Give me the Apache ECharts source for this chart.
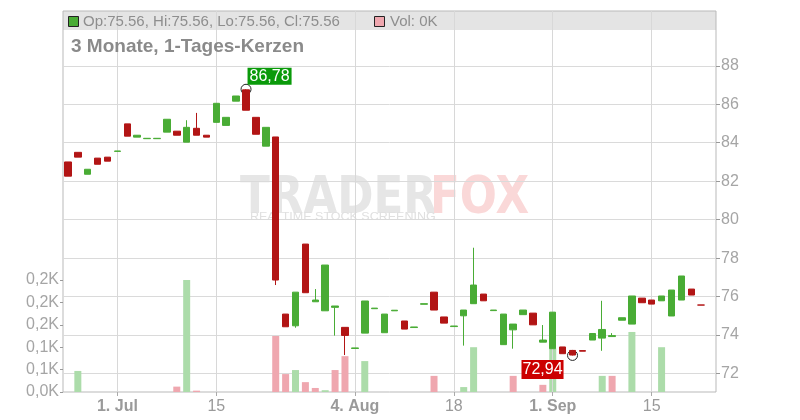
<!DOCTYPE html>
<html>
<head>
<meta charset="utf-8">
<script src="https://cdn.jsdelivr.net/npm/echarts@6/dist/echarts.min.js"></script>
<style>
html,body{margin:0;padding:0;background:#fff;}
#chart{width:800px;height:420px;}
</style>
</head>
<body>
<div id="chart"></div>
<script>
const categories = [
  '24.06.','25.06.','26.06.','27.06.','30.06.',
  '01.07.','02.07.','03.07.','04.07.','07.07.','08.07.','09.07.','10.07.','11.07.',
  '14.07.','15.07.','16.07.','17.07.','18.07.','21.07.','22.07.','23.07.','24.07.','25.07.',
  '28.07.','29.07.','30.07.','31.07.','01.08.','04.08.','05.08.','06.08.','07.08.','08.08.',
  '11.08.','12.08.','13.08.','14.08.','15.08.','18.08.','19.08.','20.08.','21.08.','22.08.',
  '25.08.','26.08.','27.08.','28.08.','29.08.','01.09.','02.09.','03.09.','04.09.','05.09.',
  '08.09.','09.09.','10.09.','11.09.','12.09.','15.09.','16.09.','17.09.','18.09.','19.09.',
  '22.09.','23.09.'
];
const opens = [
  83.00,83.50,82.36,83.20,83.25,83.55,84.98,84.29,84.21,84.21,
  84.55,84.60,84.03,84.75,84.39,85.06,84.90,86.16,86.75,85.32,
  83.82,84.30,75.09,74.48,78.73,75.73,75.26,75.44,74.40,73.30,
  74.10,75.37,74.12,75.26,74.73,74.39,75.60,76.23,74.94,74.44,
  75.00,75.63,76.13,75.27,73.50,74.27,75.06,75.14,73.63,73.29,
  73.38,73.20,73.19,73.74,73.84,73.92,74.77,74.57,75.92,75.82,
  75.78,74.99,75.82,76.39,75.56
];
const closes = [
  82.26,83.25,82.62,82.88,83.04,83.57,84.34,84.39,84.23,84.23,
  85.22,84.39,84.80,84.39,84.29,86.05,85.32,86.43,85.69,84.44,
  84.80,76.86,74.43,76.23,76.20,75.82,77.64,75.51,73.98,73.33,
  75.77,75.40,75.09,75.29,74.31,74.42,75.63,75.30,74.62,74.47,
  75.30,76.60,75.78,75.30,75.09,74.57,75.30,74.53,73.74,75.19,
  73.03,72.96,73.16,74.08,74.29,73.97,74.90,76.03,75.68,75.61,
  76.03,76.34,77.07,76.08,75.56
];
const highs = [
  83.00,83.50,82.62,83.20,83.25,83.57,84.98,84.39,84.23,84.23,
  85.22,84.60,85.17,85.55,84.39,86.05,85.32,86.43,86.78,85.32,
  84.80,84.30,75.09,76.23,78.73,76.39,77.64,75.51,74.40,73.33,
  75.77,75.40,75.09,75.29,74.73,74.42,75.63,76.23,74.94,74.47,
  75.30,78.54,76.13,75.30,75.09,74.57,75.30,75.14,74.52,75.19,
  73.38,73.20,73.19,74.08,75.78,74.10,74.90,76.03,75.92,75.82,
  76.03,76.34,77.07,76.39,75.56
];
const lows = [
  82.26,83.25,82.36,82.88,83.04,83.55,84.34,84.29,84.21,84.21,
  84.55,84.39,84.03,84.39,84.29,85.06,84.90,86.16,85.69,84.44,
  83.82,76.60,74.43,74.38,76.20,75.73,75.26,73.97,72.96,73.30,
  74.10,75.37,74.12,75.26,74.31,74.39,75.60,75.30,74.62,74.44,
  73.45,75.63,75.78,75.27,73.50,73.29,75.06,74.53,73.63,73.29,
  73.03,72.94,73.16,73.74,73.18,73.92,74.77,74.57,75.68,75.61,
  75.78,74.99,75.82,76.08,75.56
];
const volumes = [
  0,47,0,0,0,0,0,0,0,0,
  0,12,250,3,0,0,0,0,0,0,
  0,125,40,49,22,9,4,49,80,0,
  69,0,0,0,0,0,0,36,0,0,
  11,100,0,0,0,36,0,0,16,97,
  0,0,0,0,36,36,0,134,0,0,
  100,0,0,0,0
];
const tickDates = ['01.07.','15.07.','04.08.','18.08.','01.09.','15.09.'];
const tickLabels = ['1. Jul','15','4. Aug','18','1. Sep','15'];
const tickBold = [true,false,true,false,true,false];
const priceTicks = [72,74,76,78,80,82,84,86,88];
const volTickValues = [0,50,100,150,200,250];
const volTickLabels = ['0,0K','0,1K','0,1K','0,2K','0,2K','0,2K'];
const titleText = '3 Monate, 1-Tages-Kerzen';

const UP = '#49ac35', DOWN = '#b21515', VUP = '#acdcaa', VDOWN = '#efa7af';
const FONT = '"Liberation Sans", Arial, sans-serif';

const candleData = opens.map((o, i) => [o, closes[i], lows[i], highs[i]]);
const volData = volumes.map((v, i) => ({
  value: v,
  itemStyle: { color: (i > 0 && closes[i] < closes[i - 1]) ? VDOWN : VUP }
}));

let hiIdx = 0, loIdx = 0;
highs.forEach((h, i) => { if (h > highs[hiIdx]) hiIdx = i; });
lows.forEach((l, i) => { if (l < lows[loIdx]) loIdx = i; });
const fmtDe = v => v.toFixed(2).replace('.', ',');

const last = opens.length - 1;
const legendText = 'Op:' + opens[last].toFixed(2) + ', Hi:' + highs[last].toFixed(2) +
  ', Lo:' + lows[last].toFixed(2) + ', Cl:' + closes[last].toFixed(2);
const volText = 'Vol: ' + Math.round(volumes[last] / 1000) + 'K';

const L = 63, R = 84, T = 11, B = 28;
const isTick = (idx, val) => tickDates.indexOf(val) >= 0;

const chart = echarts.init(document.getElementById('chart'), null, { renderer: 'canvas' });
chart.setOption({
  animation: false,
  backgroundColor: '#fff',
  textStyle: { fontFamily: FONT },
  grid: [
    { left: L, right: R, top: T, bottom: B, show: true, borderColor: '#b9b9b9', borderWidth: 1, backgroundColor: 'transparent' },
    { left: L, right: R, top: 280, bottom: B },
    { left: L, right: R, top: 65.8, bottom: 46.5 }
  ],
  xAxis: [
    {
      type: 'category', gridIndex: 0, data: categories, boundaryGap: true,
      axisLine: { show: false },
      axisTick: { show: true, alignWithLabel: true, interval: isTick, length: 4, lineStyle: { color: '#aaa' } },
      axisLabel: {
        show: true, interval: isTick, margin: 7, color: '#9a9a9a', fontSize: 16, fontFamily: FONT,
        formatter: v => {
          const k = tickDates.indexOf(v);
          if (k < 0) return '';
          return (tickBold[k] ? '{b|' : '{n|') + tickLabels[k] + '}';
        },
        rich: {
          b: { fontWeight: 'bold', fontSize: 16, color: '#9a9a9a', fontFamily: FONT },
          n: { fontSize: 16, color: '#9a9a9a', fontFamily: FONT }
        }
      },
      splitLine: { show: false }
    },
    { type: 'category', gridIndex: 1, data: categories, boundaryGap: true, show: false },
    { type: 'category', gridIndex: 2, data: categories, boundaryGap: true, show: false }
  ],
  yAxis: [
    { type: 'value', gridIndex: 0, min: 0, max: 1, show: false, splitLine: { show: false } },
    {
      type: 'value', gridIndex: 1, position: 'left', min: 0, max: 250, interval: 50,
      axisLine: { show: false },
      axisTick: { show: true, length: 3, lineStyle: { color: '#999' } },
      axisLabel: {
        margin: 4, color: '#a5a5a5', fontSize: 16, fontFamily: FONT,
        formatter: v => { const k = volTickValues.indexOf(v); return k >= 0 ? volTickLabels[k] : ''; }
      },
      splitLine: { show: false }
    },
    {
      type: 'value', gridIndex: 2, position: 'right', min: priceTicks[0], max: priceTicks[priceTicks.length - 1], interval: 2,
      axisLine: { show: false },
      axisTick: { show: true, length: 4, lineStyle: { color: '#999' } },
      axisLabel: { margin: 5, color: '#a5a5a5', fontSize: 16, fontFamily: FONT },
      splitLine: { show: true, lineStyle: { color: '#dadada', width: 1 } }
    }
  ],
  graphic: [
    { type: 'rect', z: -20, shape: { x: L, y: T, width: 800 - L - R, height: 19 }, style: { fill: '#e4e4e4' }, silent: true },
    { type: 'rect', z: 20, shape: { x: 68.5, y: 16.5, width: 10, height: 10 }, style: { fill: UP, stroke: '#222', lineWidth: 1 } },
    { type: 'text', z: 20, x: 83, y: 21.5, style: { text: legendText, fill: '#8e8e8e', font: '15px ' + FONT, verticalAlign: 'middle' } },
    { type: 'rect', z: 20, shape: { x: 374.5, y: 16.5, width: 10, height: 10 }, style: { fill: VDOWN, stroke: '#222', lineWidth: 1 } },
    { type: 'text', z: 20, x: 390, y: 21.5, style: { text: volText, fill: '#8e8e8e', font: '15px ' + FONT, verticalAlign: 'middle' } },
    { type: 'text', z: 20, x: 71, y: 47, style: { text: titleText, fill: '#8a8a8a', font: 'bold 19px ' + FONT, verticalAlign: 'middle' } },
    { type: 'text', z: -15, x: 240, y: 173, scaleX: 0.84, style: { text: 'TRADER', fill: '#e6e6e6', font: 'bold 52px "DejaVu Sans", sans-serif' } },
    { type: 'text', z: -15, x: 430, y: 173, scaleX: 0.84, style: { text: 'FOX', fill: '#fad8d8', font: 'bold 52px "DejaVu Sans", sans-serif' } },
    { type: 'text', z: -15, x: 250, y: 212, scaleX: 1.25, style: { text: 'REALTIME STOCK SCREENING', fill: '#e0e0e0', font: '10px ' + FONT } }
  ],
  series: [
    {
      type: 'line', xAxisIndex: 0, yAxisIndex: 0, data: [], z: 1, silent: true,
      markLine: {
        silent: true, symbol: ['none', 'none'], label: { show: false },
        lineStyle: { color: '#d8d8d8', type: 'solid', width: 1 },
        data: tickDates.map(d => ({ xAxis: d }))
      }
    },
    {
      type: 'bar', xAxisIndex: 1, yAxisIndex: 1, data: volData, barWidth: 7, z: 3, silent: true
    },
    {
      type: 'candlestick', xAxisIndex: 2, yAxisIndex: 2, data: candleData, barWidth: 7, z: 5, silent: true,
      itemStyle: { color: UP, color0: DOWN, borderColor: UP, borderColor0: DOWN, borderWidth: 1 },
      markPoint: {
        silent: true,
        symbol: 'circle', symbolSize: 10,
        itemStyle: { color: 'rgba(255,255,255,0)', borderColor: '#222', borderWidth: 1 },
        data: [
          {
            coord: [categories[hiIdx], highs[hiIdx]],
            label: { show: true, formatter: fmtDe(highs[hiIdx]), position: [7, -16], align: 'left', verticalAlign: 'top',
              color: '#fff', fontSize: 16, fontFamily: FONT, backgroundColor: '#0a9a0a', padding: [1, 2, 0, 2] }
          },
          {
            coord: [categories[loIdx], lows[loIdx]],
            label: { show: true, formatter: fmtDe(lows[loIdx]), position: [-3.5, 10], align: 'right', verticalAlign: 'top',
              color: '#fff', fontSize: 16, fontFamily: FONT, backgroundColor: '#cc0000', padding: [2, 1, 1, 1] }
          }
        ]
      }
    }
  ]
});
</script>
</body>
</html>
